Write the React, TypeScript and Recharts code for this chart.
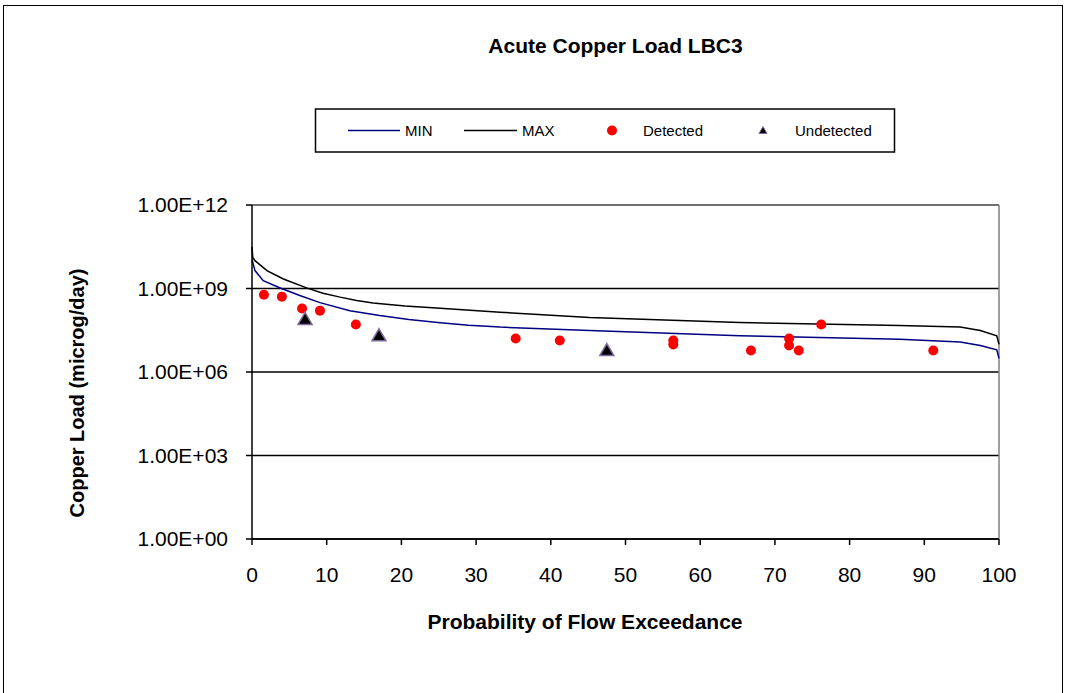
import React from 'react';
import {
  ComposedChart,
  Line,
  Scatter,
  XAxis,
  YAxis,
  CartesianGrid,
  ReferenceLine,
} from 'recharts';

const FONT = '"Liberation Sans", Arial, Helvetica, sans-serif';

// load duration curves (x = probability of flow exceedance, %)
const minX = [0, 0.4, 1.5, 3.7, 6.4, 9.1, 13.1, 17.1, 21.0, 25.2, 29.0, 33.2, 45.2, 65.3, 86.7, 94.8, 97.5, 99.7, 100];
const minLoad = [1.1e10, 4.4e9, 1.9e9, 1.07e9, 5.6e8, 3.1e8, 1.6e8, 1.07e8, 7.7e7, 5.9e7, 4.8e7, 4.1e7, 3.1e7, 2.0e7, 1.5e7, 1.2e7, 8.9e6, 6.3e6, 3.1e6];

const maxX = [0, 0.1, 0.4, 2.0, 4.2, 7.3, 9.5, 11.8, 14.0, 16.2, 20.5, 25.2, 33.2, 45.2, 65.3, 86.7, 94.8, 97.5, 99.7, 100];
const maxLoad = [3.2e10, 1.3e10, 1.0e10, 4.4e9, 2.2e9, 1.05e9, 6.8e8, 4.9e8, 3.7e8, 3.0e8, 2.35e8, 1.95e8, 1.4e8, 9.1e7, 6.0e7, 4.7e7, 4.1e7, 3.1e7, 2.0e7, 9.8e6];

// samples
const detectedX = [1.6, 4.0, 6.7, 9.1, 13.9, 35.3, 41.2, 56.4, 56.4, 66.8, 71.9, 71.9, 73.2, 76.2, 91.2];
const detectedLoad = [6.0e8, 5.1e8, 1.9e8, 1.6e8, 5.1e7, 1.6e7, 1.35e7, 1.35e7, 9.8e6, 5.9e6, 1.6e7, 9.0e6, 5.9e6, 5.1e7, 5.9e6];

const undetectedX = [7.1, 17.0, 47.5];
const undetectedLoad = [7.7e7, 2.0e7, 5.9e6];

const xTicks = [0, 10, 20, 30, 40, 50, 60, 70, 80, 90, 100];
const yTicks = [1, 1e3, 1e6, 1e9, 1e12];

const zip = (xs: number[], ys: number[]) => xs.map((x, i) => ({ x, y: ys[i] }));

const minData = zip(minX, minLoad);
const maxData = zip(maxX, maxLoad);
const detectedData = zip(detectedX, detectedLoad);
const undetectedData = zip(undetectedX, undetectedLoad);

const fmtExp = (v: number) => {
  const e = Math.round(Math.log10(v));
  return `1.00E+${String(e).padStart(2, '0')}`;
};

const RedDot = (props: any) => <circle cx={props.cx} cy={props.cy} r={5} fill="#ff0000" />;

const Triangle = (props: any) => {
  const { cx, cy } = props;
  return (
    <path
      d={`M${cx},${cy - 7}L${cx + 7},${cy + 5}L${cx - 7},${cy + 5}Z`}
      fill="#000"
      stroke="#7f6a9f"
      strokeWidth={1.5}
    />
  );
};

export default function App() {
  const tickStyle = { fontSize: 21, fill: '#000', fontFamily: FONT };

  return (
    <div
      style={{
        position: 'absolute',
        left: 0,
        top: 0,
        width: 1070,
        height: 693,
        overflow: 'hidden',
        background: '#fff',
        fontFamily: FONT,
      }}
    >
      {/* chart frame */}
      <div
        style={{
          position: 'absolute',
          left: 3,
          top: 5,
          width: 1060,
          height: 720,
          border: '1.5px solid #000',
          boxSizing: 'border-box',
        }}
      />

      <ComposedChart
        width={1070}
        height={693}
        margin={{ top: 205, right: 71, bottom: 94, left: 0 }}
        style={{ position: 'absolute', left: 0, top: 0 }}
      >
        <CartesianGrid vertical={false} stroke="#000" strokeWidth={1.5} />
        <ReferenceLine y={1e12} stroke="#808080" strokeWidth={1.5} />
        <ReferenceLine x={100} stroke="#808080" strokeWidth={1.5} />
        <XAxis
          type="number"
          dataKey="x"
          domain={[0, 100]}
          ticks={xTicks}
          interval={0}
          height={60}
          tickSize={6}
          tickMargin={22}
          tick={tickStyle}
          axisLine={{ stroke: '#000', strokeWidth: 1.5 }}
          tickLine={{ stroke: '#000', strokeWidth: 1.5 }}
        />
        <YAxis
          type="number"
          scale="log"
          domain={[1, 1e12]}
          ticks={yTicks}
          interval={0}
          width={252}
          tickSize={6}
          tickMargin={18}
          tickFormatter={fmtExp}
          tick={tickStyle}
          axisLine={{ stroke: '#000', strokeWidth: 1.5 }}
          tickLine={{ stroke: '#000', strokeWidth: 1.5 }}
          allowDataOverflow
        />
        <Line
          data={minData}
          dataKey="y"
          name="MIN"
          type="linear"
          stroke="#000080"
          strokeWidth={1.5}
          dot={false}
          activeDot={false}
          isAnimationActive={false}
        />
        <Line
          data={maxData}
          dataKey="y"
          name="MAX"
          type="linear"
          stroke="#000"
          strokeWidth={1.5}
          dot={false}
          activeDot={false}
          isAnimationActive={false}
        />
        <Scatter
          data={detectedData}
          dataKey="y"
          name="Detected"
          shape={RedDot}
          isAnimationActive={false}
        />
        <Scatter
          data={undetectedData}
          dataKey="y"
          name="Undetected"
          shape={Triangle}
          isAnimationActive={false}
        />
      </ComposedChart>

      {/* title, axis titles and legend */}
      <svg
        width={1070}
        height={693}
        style={{ position: 'absolute', left: 0, top: 0, pointerEvents: 'none' }}
        fontFamily={FONT}
      >
        <text x={615.5} y={52.5} textAnchor="middle" fontSize={21} fontWeight="bold" fill="#000">
          Acute Copper Load LBC3
        </text>
        <text x={585} y={629} textAnchor="middle" fontSize={21} fontWeight="bold" fill="#000">
          Probability of Flow Exceedance
        </text>
        <text
          transform="translate(84,393) rotate(-90)"
          textAnchor="middle"
          fontSize={20}
          fontWeight="bold"
          fill="#000"
        >
          Copper Load (microg/day)
        </text>

        <rect x={315.5} y={109} width={579} height={43} fill="#fff" stroke="#000" strokeWidth={1.5} />
        <line x1={348} y1={130.5} x2={400} y2={130.5} stroke="#000080" strokeWidth={1.5} />
        <text x={405} y={136} fontSize={15} fill="#000">MIN</text>
        <line x1={464} y1={130.5} x2={517} y2={130.5} stroke="#000" strokeWidth={1.5} />
        <text x={522} y={136} fontSize={15} fill="#000">MAX</text>
        <circle cx={612} cy={130.5} r={5} fill="#ff0000" />
        <text x={643} y={136} fontSize={15} fill="#000">Detected</text>
        <path d="M763,126.5L767,133.5L759,133.5Z" fill="#000" stroke="#7f6a9f" strokeWidth={1} />
        <text x={795} y={136} fontSize={15} fill="#000">Undetected</text>
      </svg>
    </div>
  );
}
